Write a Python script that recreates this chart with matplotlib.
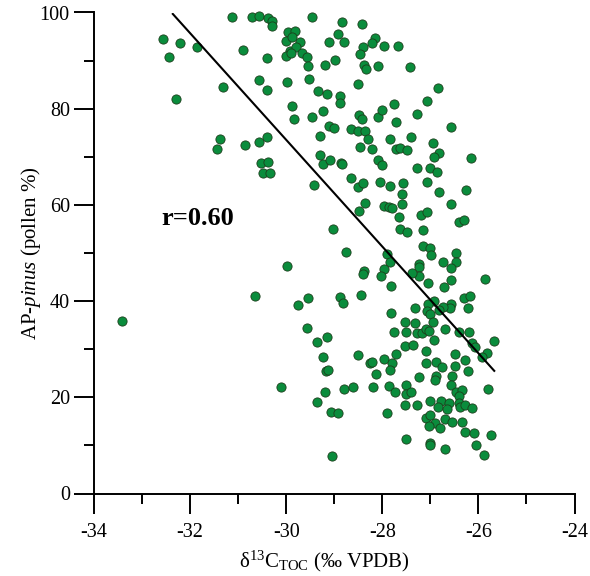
#!/usr/bin/env python3
import numpy as np
import matplotlib
matplotlib.use("Agg")
import matplotlib.pyplot as plt
from matplotlib.ticker import MultipleLocator

#--------------------------------------------------------------------------#
# d13C TOC (permil VPDB) vs AP-pinus (pollen %)
d13c = [
    -31.12, -30.71, -30.56, -30.38, -30.29, -30.29, -32.57, -32.21, -31.86, -32.44,
    -30.89, -30.40, -29.97, -29.81, -30.01, -29.87, -29.93, -30.01, -30.56, -29.99,
    -31.32, -30.39, -32.29, -29.88, -29.84, -31.37, -31.44, -30.86, -30.56, -30.40,
    -30.52, -30.37, -30.48, -30.34,
    -29.46, -28.83, -28.42, -28.93, -29.71, -29.79, -29.89, -29.10, -28.79, -28.15,
    -28.21, -28.41, -27.97, -27.67, -29.67, -29.57, -29.54, -29.19, -28.99, -28.46,
    -28.39, -28.33, -28.09, -27.42, -29.52, -28.51, -29.33, -29.15, -28.88, -28.88,
    -26.85, -27.08, -29.47, -29.24, -28.49, -28.42, -28.09, -28.01, -27.76, -27.28,
    -27.71, -26.58, -29.10, -29.00, -29.29, -28.65, -28.50, -28.35, -28.30, -28.47,
    -28.21, -27.83, -27.71, -27.63, -27.48, -27.40, -26.95, -26.82, -26.92, -26.15,
    -29.29, -29.24, -29.08, -28.85, -28.83, -28.09, -28.01, -27.27, -27.00, -26.86,
    -29.42, -28.66, -28.51, -28.41, -28.04, -27.85, -27.56, -27.60, -27.06, -26.83,
    -26.26,
    -33.41, -30.65, -29.99, -30.11,
    -28.35, -28.49, -27.97, -27.87, -27.79, -27.58, -27.65, -27.19, -27.08, -29.03,
    -27.63, -27.49, -27.15, -27.16, -28.76, -27.90, -27.85, -28.39, -28.41, -27.96,
    -28.02, -27.82, -27.24, -27.23, -27.24, -27.38, -27.05, -28.88, -28.82, -28.44,
    -29.55, -29.76, -27.82, -27.31, -27.53, -27.31, -27.51, -27.28, -27.17, -27.76,
    -29.56, -29.15,
    -26.58, -26.40, -26.30, -27.01, -26.98, -26.46, -26.46, -26.74, -26.56, -25.87,
    -26.58, -26.72, -26.31, -26.18, -26.22, -26.56, -26.59, -26.73, -26.81, -26.93,
    -27.04, -27.07, -27.00, -26.95, -26.70, -27.10, -27.03, -26.41, -26.19,
    -29.35, -29.24, -29.17, -29.12, -29.20, -29.35, -29.06, -28.92, -28.79, -28.60,
    -28.51, -28.26, -28.22, -28.13, -28.19, -27.96, -27.80, -27.83, -27.71, -27.52,
    -27.37, -27.09, -27.10, -27.23, -27.86, -27.74, -27.51, -27.51, -27.40, -27.53,
    -27.28, -27.90, -27.10, -27.50, -29.04,
    -26.92, -26.13, -26.08, -25.67, -25.83, -25.92, -26.49, -26.27, -26.88, -26.76,
    -26.48, -26.21, -26.88, -26.91, -26.55, -26.57, -25.81, -26.46, -26.34, -26.41,
    -27.00, -26.77, -26.62, -26.85, -26.65, -26.41, -26.38, -26.27, -26.13, -27.00,
    -26.70, -26.55, -26.34, -26.90, -27.02, -26.79, -26.27, -26.09, -25.73, -27.00,
    -27.00, -26.69, -26.04, -25.89,
]
pinus = [
    99.1, 99.1, 99.3, 98.8, 98.3, 97.2, 94.4, 93.6, 92.8, 90.8,
    92.1, 90.5, 96.0, 96.2, 94.1, 95.0, 91.9, 91.0, 86.0, 85.6,
    84.6, 83.9, 82.0, 80.6, 77.8, 73.8, 71.7, 72.4, 73.1, 74.2,
    68.8, 68.9, 66.7, 66.6,
    99.0, 98.0, 97.6, 95.6, 93.9, 92.9, 91.6, 93.9, 93.9, 94.6,
    93.6, 92.8, 93.0, 93.0, 91.6, 90.7, 88.9, 89.1, 90.1, 91.4,
    89.1, 88.3, 88.9, 88.7, 86.2, 85.2, 83.7, 83.0, 82.7, 81.1,
    84.2, 81.7, 78.2, 79.6, 78.7, 77.8, 78.3, 79.7, 80.9, 79.0,
    77.2, 76.2, 76.4, 76.0, 74.4, 75.7, 75.4, 75.4, 73.8, 72.0,
    71.7, 73.7, 71.6, 71.8, 71.4, 74.1, 72.8, 70.7, 69.9, 69.7,
    70.3, 68.4, 69.3, 68.8, 68.4, 69.4, 68.3, 67.6, 67.6, 66.8,
    64.1, 65.5, 63.7, 64.6, 64.8, 63.9, 64.6, 62.2, 64.8, 62.7,
    63.0,
    35.9, 41.1, 47.4, 22.2,
    60.3, 58.7, 59.8, 59.6, 59.4, 60.1, 57.5, 57.8, 58.5, 55.0,
    54.9, 54.4, 54.8, 51.5, 50.3, 49.7, 48.2, 46.3, 45.6, 46.7,
    45.2, 43.2, 47.7, 47.0, 45.3, 45.8, 43.8, 40.9, 39.6, 41.3,
    40.6, 39.2, 37.5, 38.6, 35.6, 35.4, 33.6, 33.3, 33.4, 33.6,
    34.5, 32.6,
    60.2, 56.5, 56.9, 51.1, 49.6, 50.0, 48.2, 48.1, 46.9, 44.5,
    44.4, 43.0, 40.6, 41.1, 38.5, 39.3, 38.5, 38.8, 38.1, 40.0,
    39.3, 37.9, 37.3, 35.6, 34.3, 34.3, 33.7, 33.5, 33.5,
    31.5, 28.4, 25.5, 25.7, 21.0, 19.0, 16.9, 16.7, 21.8, 22.2,
    28.8, 27.2, 27.4, 24.8, 22.2, 27.9, 27.1, 25.7, 29.1, 30.7,
    30.9, 29.7, 27.1, 24.3, 22.3, 21.0, 22.5, 20.7, 21.2, 18.5,
    18.5, 16.7, 15.8, 11.4, 7.9,
    31.9, 31.2, 30.5, 31.8, 29.3, 28.3, 29.1, 27.8, 27.3, 26.2,
    26.5, 25.5, 24.4, 23.6, 24.5, 22.6, 21.7, 21.0, 21.5, 20.3,
    19.2, 19.3, 18.9, 17.9, 17.5, 18.8, 18.0, 18.4, 17.7, 16.3,
    15.5, 14.9, 14.9, 14.6, 14.0, 13.6, 12.7, 12.6, 12.2, 10.6,
    10.1, 9.2, 10.0, 8.0,
]

# regression line end points
line_x = [-32.36, -25.67]
line_y = [99.7, 25.5]

r_text = "r=0.60"

#--------------------------------------------------------------------------#
plt.rcParams["font.family"] = ["Liberation Serif", "DejaVu Serif"]
plt.rcParams["mathtext.fontset"] = "custom"
plt.rcParams["mathtext.rm"] = "Liberation Serif"
plt.rcParams["mathtext.it"] = "Liberation Serif:italic"
plt.rcParams["mathtext.bf"] = "Liberation Serif:bold"
plt.rcParams["axes.unicode_minus"] = False

fig = plt.figure(figsize=(5.9, 5.76), dpi=100)
ax = fig.add_axes([94 / 590, 1 - 493.5 / 576, 480.5 / 590, 481 / 576])

ax.scatter(d13c, pinus, s=44, color="#0a8c3c", edgecolors="#1c3f1c",
           linewidths=0.6, zorder=3, clip_on=False)
ax.plot(line_x, line_y, color="black", lw=1.5, zorder=4)

ax.text(-32.59, 57.2, r_text, fontsize=19, fontweight="bold",
        ha="left", va="center")

ax.set_xlim(-34, -24)
ax.set_ylim(0, 100)
ax.xaxis.set_major_locator(MultipleLocator(2))
ax.xaxis.set_minor_locator(MultipleLocator(1))
ax.yaxis.set_major_locator(MultipleLocator(20))
ax.yaxis.set_minor_locator(MultipleLocator(10))

for s in ["top", "right"]:
    ax.spines[s].set_visible(False)
for s in ["left", "bottom"]:
    ax.spines[s].set_linewidth(1.4)

ax.tick_params(which="major", direction="out", length=14.4, width=1.4,
               labelsize=14.5)
ax.tick_params(which="minor", direction="out", length=7.2, width=1.4)
ax.tick_params(axis="x", which="major", pad=7)
ax.tick_params(axis="y", which="major", pad=3)

ax.set_xlabel(r"δ$^{13}$C$_{\rm TOC}$ (‰ VPDB)", fontsize=15)
ax.set_ylabel(r"AP-$\it{pinus}$ (pollen %)", fontsize=15)
ax.xaxis.set_label_coords(0.48, -0.115)
ax.yaxis.set_label_coords(-0.106, 0.50)

fig.savefig("out.png", dpi=100)
print("done")
